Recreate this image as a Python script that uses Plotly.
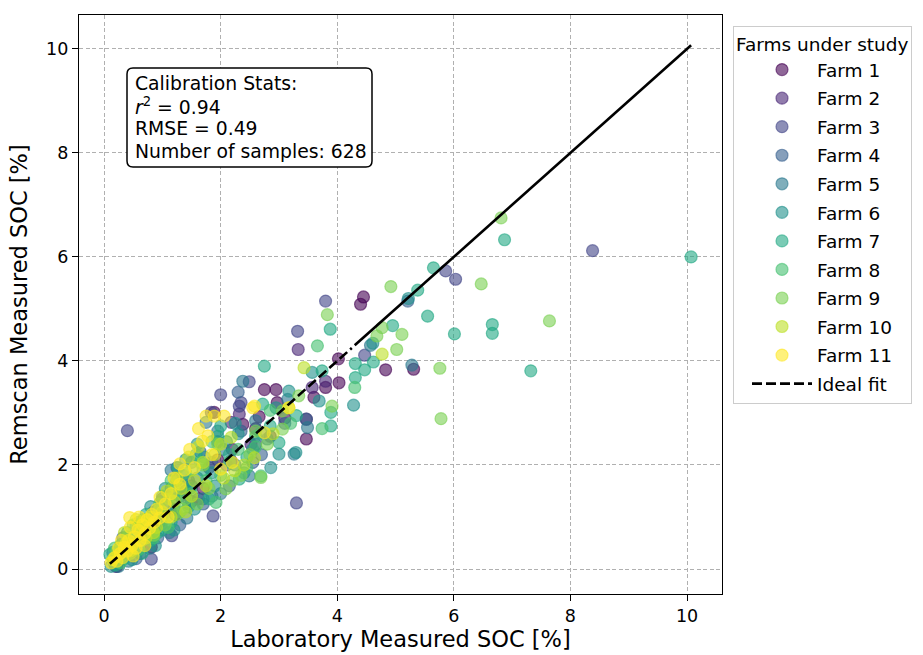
import plotly.graph_objects as go

# ---------------- data ----------------
FARM_NAMES = ["Farm 1", "Farm 2", "Farm 3", "Farm 4", "Farm 5", "Farm 6",
              "Farm 7", "Farm 8", "Farm 9", "Farm 10", "Farm 11"]
FARM_COLORS = ["#440154", "#482475", "#414487", "#355f8d", "#2a788e", "#21918c",
               "#22a884", "#44bf70", "#7ad151", "#bddf26", "#fde725"]

farm1_lab = [0.22, 0.45, 0.81, 0.70, 0.95, 1.22, 1.50, 1.70, 1.89, 1.95, 2.20, 2.38, 2.60, 2.66,
             2.75, 2.95, 2.97, 3.10, 3.47, 3.47, 3.60, 3.80, 4.03, 4.02, 4.40, 4.45, 4.83, 5.31]
farm1_rem = [0.05, 0.42, 0.42, 0.75, 0.90, 1.05, 1.30, 1.55, 3.01, 2.10, 2.30, 2.78, 2.70, 2.93,
             3.45, 3.45, 3.20, 2.90, 2.50, 2.88, 3.30, 3.49, 3.58, 4.04, 5.09, 5.23, 3.83, 3.84]

farm2_lab = [0.28, 0.50, 0.75, 0.98, 1.20, 1.40, 1.62, 1.80, 2.18, 2.18, 2.32, 2.52, 2.85, 3.33,
             3.57, 3.80, 1.00, 0.35]
farm2_rem = [0.18, 0.35, 0.62, 0.85, 1.15, 1.50, 1.35, 1.95, 2.08, 2.82, 2.98, 2.40, 2.55, 4.22,
             3.49, 3.61, 1.35, 0.30]

farm3_lab = [0.20, 0.40, 0.81, 0.62, 1.16, 1.87, 1.00, 1.45, 1.84, 2.32, 2.35, 2.49, 2.10, 2.60,
             3.30, 3.32, 3.80, 4.47, 5.86, 6.03, 8.38, 2.00]
farm3_rem = [0.05, 2.66, 0.19, 0.30, 0.64, 1.02, 1.05, 1.70, 3.01, 3.13, 3.20, 3.60, 2.00, 2.40,
             1.27, 4.57, 5.15, 4.11, 5.73, 5.57, 6.12, 3.35]

farm4_lab = [0.18, 0.32, 0.55, 0.72, 0.92, 1.10, 1.30, 1.50, 1.70, 1.85, 2.15, 2.35, 2.70, 3.10,
             3.47, 5.21, 1.25, 2.30, 0.40, 0.85, 1.15, 1.45, 1.95, 2.55, 1.65, 0.60]
farm4_rem = [0.10, 0.60, 0.20, 0.80, 0.60, 1.20, 0.85, 1.60, 1.25, 2.05, 1.60, 2.65, 2.20, 2.80,
             2.88, 5.15, 1.95, 3.40, 0.30, 1.10, 1.55, 1.25, 2.45, 2.05, 2.25, 0.55]

farm5_lab = [0.15, 0.25, 0.42, 0.60, 0.78, 0.98, 1.12, 1.30, 1.42, 1.60, 1.75, 1.85, 2.05, 2.38,
             2.49, 2.60, 3.15, 3.26, 3.49, 4.57, 5.28, 1.15, 2.00, 0.35, 0.70, 0.90, 1.25, 1.50,
             1.95, 2.25, 2.80, 1.70]
farm5_rem = [0.32, 0.05, 0.15, 0.90, 0.40, 1.30, 0.70, 1.40, 0.98, 1.75, 2.82, 1.40, 2.30, 3.61,
             1.79, 2.85, 3.26, 2.21, 2.72, 4.30, 3.92, 1.90, 1.45, 0.25, 0.65, 1.05, 1.70, 2.05,
             2.65, 2.00, 2.50, 1.35]

farm6_lab = [0.12, 0.30, 0.48, 0.68, 0.88, 1.05, 1.20, 1.35, 1.55, 1.72, 1.90, 2.10, 2.40, 2.69,
             2.86, 3.00, 3.17, 3.69, 3.57, 4.28, 4.61, 5.22, 3.29, 1.40, 2.25, 0.22, 0.40, 0.58,
             0.80, 1.00, 1.25, 1.60, 1.85, 2.30, 2.55, 2.95, 1.48]
farm6_rem = [0.05, 0.48, 0.18, 0.95, 0.45, 1.55, 0.75, 1.80, 1.15, 2.15, 1.60, 2.45, 1.85, 2.62,
             1.95, 2.21, 3.42, 3.23, 3.78, 3.15, 4.34, 5.20, 2.24, 2.10, 2.80, 0.18, 0.70, 0.35,
             1.20, 0.75, 1.35, 2.40, 1.85, 2.60, 2.30, 3.10, 1.55]

farm7_lab = [0.10, 0.20, 0.35, 0.55, 0.80, 1.00, 1.15, 1.27, 1.45, 1.70, 1.95, 2.15, 2.32, 2.60,
             2.72, 3.00, 2.75, 3.88, 3.74, 3.89, 3.89, 4.31, 4.47, 4.62, 4.31, 4.95, 5.38, 5.55,
             5.65, 6.01, 6.66, 6.66, 6.87, 7.32, 10.07, 0.65, 0.28, 0.45, 0.72, 0.92, 1.08, 1.38,
             1.58, 1.80, 2.00, 2.45, 2.85, 3.30]
farm7_rem = [0.28, 0.08, 0.20, 0.85, 0.55, 1.40, 0.90, 1.95, 1.20, 1.90, 2.55, 2.20, 1.73, 2.55,
             3.17, 2.43, 3.90, 4.61, 3.81, 3.01, 2.75, 3.95, 3.83, 3.98, 3.68, 4.68, 5.36, 4.86,
             5.79, 4.52, 4.70, 4.53, 6.33, 3.81, 6.00, 0.30, 0.45, 0.55, 1.05, 0.70, 1.20, 1.60,
             2.20, 1.35, 2.75, 2.15, 2.75, 2.95]

farm8_lab = [0.18, 0.28, 0.40, 0.60, 0.75, 0.95, 1.10, 1.30, 1.50, 1.65, 1.92, 2.00, 2.30, 2.45,
             2.69, 3.20, 3.66, 4.30, 3.74, 1.15, 0.50, 2.85, 0.30, 0.55, 0.85, 1.00, 1.22, 1.40,
             1.75, 2.15, 2.60, 1.85]
farm8_rem = [0.40, 0.12, 0.62, 0.38, 0.85, 1.25, 0.80, 1.10, 1.45, 2.05, 1.28, 1.80, 2.30, 1.95,
             1.79, 2.80, 4.29, 3.49, 2.70, 1.70, 0.85, 3.05, 0.25, 0.65, 0.60, 1.00, 1.45, 1.85,
             1.70, 2.05, 2.35, 2.45]

farm9_lab = [0.22, 0.45, 0.65, 0.85, 1.05, 1.25, 1.40, 1.60, 1.80, 2.09, 2.20, 2.69, 1.20, 1.50,
             2.50, 2.80, 3.06, 3.06, 3.34, 3.91, 3.83, 4.77, 4.68, 5.11, 5.02, 4.92, 5.76, 5.78,
             6.47, 6.81, 7.64, 0.70, 1.95, 0.38, 0.58, 0.95, 1.12, 1.35, 1.70, 2.35, 2.60]
farm9_rem = [0.35, 0.30, 0.55, 0.65, 0.85, 1.05, 1.35, 1.25, 1.55, 1.54, 1.70, 1.76, 1.60, 1.90,
             2.20, 2.40, 3.04, 2.69, 3.33, 3.13, 4.89, 4.64, 4.48, 4.51, 4.22, 5.43, 3.86, 2.89,
             5.48, 6.75, 4.77, 0.95, 2.40, 0.48, 0.80, 1.15, 1.35, 1.15, 2.00, 1.80, 2.65]

farm10_lab = [0.15, 0.25, 0.38, 0.50, 0.62, 0.72, 0.80, 0.90, 1.00, 1.08, 1.20, 1.32, 1.45, 1.55,
              1.62, 1.75, 1.90, 2.05, 2.18, 2.58, 2.24, 3.43, 4.77, 3.17, 0.35, 0.55, 1.40, 2.40,
              2.90, 0.45, 0.68, 0.85, 1.15, 1.25, 1.50, 1.70, 2.00]
farm10_rem = [0.18, 0.28, 0.50, 0.52, 0.72, 0.60, 1.00, 0.80, 1.10, 1.50, 1.30, 1.55, 2.15, 1.70,
              2.35, 1.60, 2.20, 1.75, 2.53, 2.14, 1.89, 3.87, 4.13, 3.10, 0.70, 0.95, 1.10, 2.00,
              2.60, 0.35, 0.90, 0.70, 1.00, 1.75, 1.40, 2.05, 2.40]

farm11_lab = [0.12, 0.18, 0.22, 0.28, 0.32, 0.35, 0.40, 0.42, 0.48, 0.52, 0.55, 0.58, 0.62, 0.66,
              0.70, 0.74, 0.78, 0.82, 0.86, 0.90, 0.95, 0.30, 0.25, 0.45, 0.60, 0.44, 0.96, 1.05,
              1.15, 1.20, 1.30, 1.30, 1.38, 1.47, 1.55, 1.69, 1.75, 1.78, 1.89, 2.06, 2.00, 2.55,
              2.75, 2.58, 3.17, 1.85, 1.62, 2.20, 1.10, 0.70, 0.50]
farm11_rem = [0.12, 0.22, 0.15, 0.30, 0.22, 0.42, 0.35, 0.55, 0.45, 0.62, 0.40, 0.75, 0.55, 0.85,
              0.68, 0.95, 0.78, 1.05, 0.90, 1.15, 0.98, 0.55, 0.40, 0.80, 1.00, 0.99, 1.38, 1.25,
              1.45, 1.75, 2.02, 1.63, 1.90, 2.30, 1.95, 2.46, 2.94, 2.56, 2.94, 2.94, 1.92, 3.10,
              2.62, 3.13, 3.10, 2.20, 2.70, 2.05, 1.00, 0.45, 0.25]

IDEAL_DASH_END = 4.25   # ideal-fit line is dashed up to this value, solid beyond
X_TICKS = [0, 2, 4, 6, 8, 10]
Y_TICKS = [0, 2, 4, 6, 8, 10]
STATS_LINES = ["Calibration Stats:", "<i>r</i><sup>2</sup> = 0.94",
               "RMSE = 0.49", "Number of samples: 628"]

# ---------------- figure ----------------
LAB = [farm1_lab, farm2_lab, farm3_lab, farm4_lab, farm5_lab, farm6_lab,
       farm7_lab, farm8_lab, farm9_lab, farm10_lab, farm11_lab]
REM = [farm1_rem, farm2_rem, farm3_rem, farm4_rem, farm5_rem, farm6_rem,
       farm7_rem, farm8_rem, farm9_rem, farm10_rem, farm11_rem]
for a, b in zip(LAB, REM):
    assert len(a) == len(b), (len(a), len(b))

W, H = 923, 655
ML, MR, MT, MB = 79, 201, 15, 61
PW, PH = W - ML - MR, H - MT - MB
FONT = "DejaVu Sans"


def px(x):
    return (x - ML) / PW


def py(y):
    return (H - MB - y) / PH


def rgba(hexc, a):
    h = hexc.lstrip("#")
    return "rgba(%d,%d,%d,%.2f)" % (int(h[0:2], 16), int(h[2:4], 16), int(h[4:6], 16), a)


fig = go.Figure()
for name, col, xs, ys in zip(FARM_NAMES, FARM_COLORS, LAB, REM):
    fig.add_trace(go.Scatter(
        x=xs, y=ys, mode="markers", name=name, legendgroup=name,
        marker=dict(size=12, color=rgba(col, 0.6),
                    line=dict(color=rgba(col, 0.6), width=1.2)),
    ))

all_x = [v for xs in LAB for v in xs]
lo, hi = min(all_x), max(all_x)
fig.add_trace(go.Scatter(
    x=[lo, IDEAL_DASH_END], y=[lo, IDEAL_DASH_END], mode="lines", name="Ideal fit",
    legendgroup="ideal", line=dict(color="black", width=2.6, dash="10px,4px"),
))
fig.add_trace(go.Scatter(
    x=[IDEAL_DASH_END + 0.05, hi], y=[IDEAL_DASH_END + 0.05, hi], mode="lines",
    showlegend=False, line=dict(color="black", width=2.6),
))

axis_common = dict(
    showline=True, linecolor="black", linewidth=1.3, mirror=True,
    ticks="outside", ticklen=6, tickwidth=1.2, tickcolor="black",
    showgrid=True, gridcolor="#b0b0b0", gridwidth=1, griddash="4px,2.5px",
    zeroline=False, automargin=False,
    tickfont=dict(family=FONT, size=17.5, color="black"),
)
fig.update_xaxes(range=[-0.43, 10.6], tickvals=X_TICKS,
                 title=dict(text="Laboratory Measured SOC [%]", standoff=6,
                            font=dict(family=FONT, size=22.5, color="black")),
                 **axis_common)
fig.update_yaxes(range=[-0.48, 10.65], tickvals=Y_TICKS,
                 title=dict(text="Remscan Measured SOC [%]", standoff=12,
                            font=dict(family=FONT, size=22.5, color="black")),
                 **axis_common)

# stats box (rounded rectangle)
bx0, bx1, by0, by1, r = px(127), px(372), py(167), py(68), 6
rx, ry = r / PW, r / PH
path = (f"M {bx0+rx},{by0} L {bx1-rx},{by0} Q {bx1},{by0} {bx1},{by0+ry} "
        f"L {bx1},{by1-ry} Q {bx1},{by1} {bx1-rx},{by1} "
        f"L {bx0+rx},{by1} Q {bx0},{by1} {bx0},{by1-ry} "
        f"L {bx0},{by0+ry} Q {bx0},{by0} {bx0+rx},{by0} Z")
fig.add_shape(type="path", path=path, xref="paper", yref="paper",
              line=dict(color="black", width=1.5), fillcolor="white", layer="above")
for i, txt in enumerate(STATS_LINES):
    fig.add_annotation(text=txt, xref="paper", yref="paper", x=px(133), y=py(83 + 22.7 * i),
                       xanchor="left", yanchor="middle", showarrow=False,
                       font=dict(family=FONT, size=18.8, color="black"))

fig.update_layout(
    width=W, height=H,
    margin=dict(l=ML, r=MR, t=MT, b=MB, autoexpand=False),
    paper_bgcolor="white", plot_bgcolor="white",
    font=dict(family=FONT, color="black"),
    legend=dict(
        x=px(733), y=py(26), xanchor="left", yanchor="top",
        bgcolor="white", bordercolor="#cccccc", borderwidth=1,
        font=dict(family=FONT, size=18.5, color="black"),
        title=dict(text="Farms under study", font=dict(family=FONT, size=18.5, color="black")),
        traceorder="grouped", tracegroupgap=1.5, itemwidth=60, indentation=13,
    ),
)

fig.write_html("out.html")
